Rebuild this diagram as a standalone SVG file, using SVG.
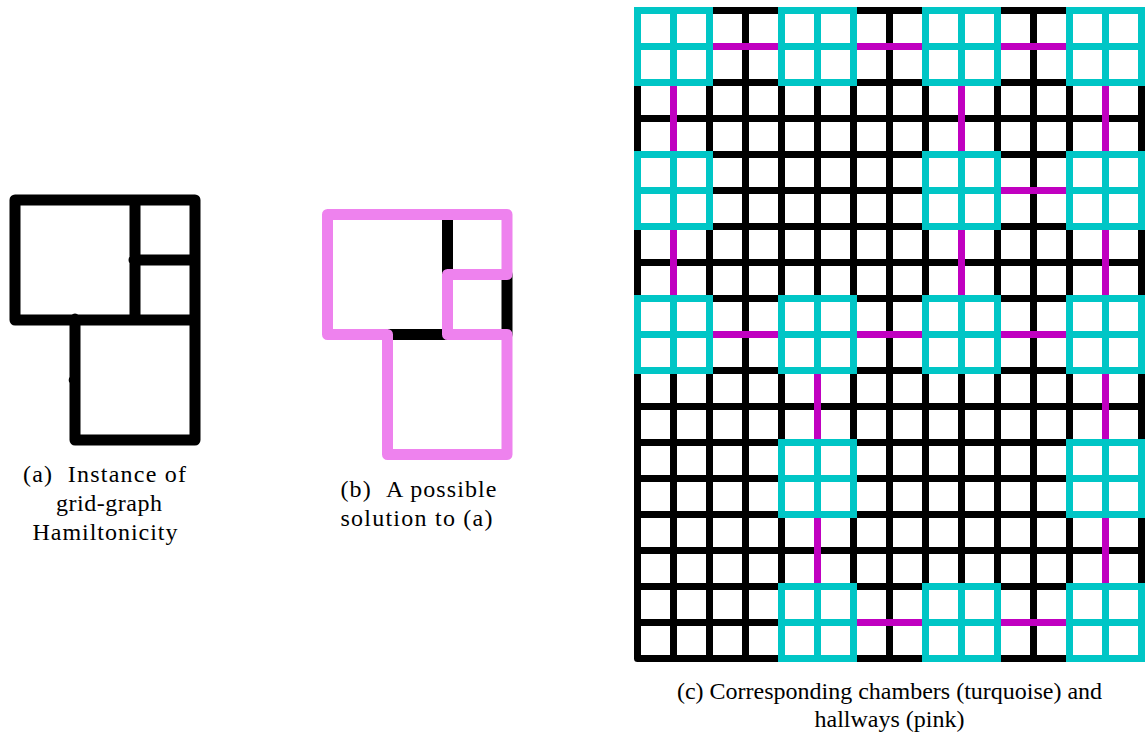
<svg xmlns="http://www.w3.org/2000/svg" xmlns:xlink="http://www.w3.org/1999/xlink" width="1146" height="734" viewBox="0 0 1146 734">
<style>
.bg{fill:#ffffff}
.grid{fill:none;stroke:#000;stroke-width:7;stroke-linecap:round}
.ch{fill:none;stroke:#00C6C6;stroke-width:7}
.hall{fill:none;stroke:#C000C0;stroke-width:7;stroke-linecap:butt}
.gA{fill:none;stroke:#000;stroke-width:11;stroke-linecap:round;stroke-linejoin:round}
.gB{fill:none;stroke:#EE82EE;stroke-width:11;stroke-linecap:round;stroke-linejoin:round}
.cap{font-family:"Liberation Serif","Times New Roman",serif;font-size:24px;fill:#000;text-anchor:middle}
</style>
<defs>
<g id="chamber"><rect x="0" y="0" width="72" height="72"/><path d="M36 0V72M0 36H72"/></g>
</defs>
<rect class="bg" x="0" y="0" width="1146" height="734"/>

<g id="graph-a">
<path class="gA" d="M15 320V200H195V440H75V320M15 320H195M135 200V320M134 260H195M75 319V322M74.2 380V380.2"/>
</g>

<g id="graph-b">
<path class="gA" d="M447.5 214.5V274.5M507 274.5V334.5M387.5 334.5H447.5"/>
<path class="gB" d="M327.5 214.5H507V274.5H447.5V334.5H507V454.5H387.5V334.5H327.5Z"/>
</g>

<g id="grid-c">
<path class="grid" d="M637.5 10.5V658.5M673.5 10.5V658.5M709.5 10.5V658.5M745.5 10.5V658.5M781.5 10.5V658.5M817.5 10.5V658.5M853.5 10.5V658.5M889.5 10.5V658.5M925.5 10.5V658.5M961.5 10.5V658.5M997.5 10.5V658.5M1033.5 10.5V658.5M1069.5 10.5V658.5M1105.5 10.5V658.5M1141.5 10.5V658.5M637.5 10.5H1141.5M637.5 46.5H1141.5M637.5 82.5H1141.5M637.5 118.5H1141.5M637.5 154.5H1141.5M637.5 190.5H1141.5M637.5 226.5H1141.5M637.5 262.5H1141.5M637.5 298.5H1141.5M637.5 334.5H1141.5M637.5 370.5H1141.5M637.5 406.5H1141.5M637.5 442.5H1141.5M637.5 478.5H1141.5M637.5 514.5H1141.5M637.5 550.5H1141.5M637.5 586.5H1141.5M637.5 622.5H1141.5M637.5 658.5H1141.5"/>
</g>

<g id="hallways">
<path class="hall" d="M709.5 46.5H781.5M853.5 46.5H925.5M997.5 46.5H1069.5M997.5 190.5H1069.5M709.5 334.5H781.5M853.5 334.5H925.5M997.5 334.5H1069.5M853.5 622.5H925.5M997.5 622.5H1069.5M673.5 82.5V154.5M961.5 82.5V154.5M1105.5 82.5V154.5M673.5 226.5V298.5M961.5 226.5V298.5M1105.5 226.5V298.5M817.5 370.5V442.5M1105.5 370.5V442.5M817.5 514.5V586.5M1105.5 514.5V586.5"/>
</g>

<g id="chamber-r0c0" class="ch"><use xlink:href="#chamber" x="637.5" y="10.5"/></g>
<g id="chamber-r0c1" class="ch"><use xlink:href="#chamber" x="781.5" y="10.5"/></g>
<g id="chamber-r0c2" class="ch"><use xlink:href="#chamber" x="925.5" y="10.5"/></g>
<g id="chamber-r0c3" class="ch"><use xlink:href="#chamber" x="1069.5" y="10.5"/></g>
<g id="chamber-r1c0" class="ch"><use xlink:href="#chamber" x="637.5" y="154.5"/></g>
<g id="chamber-r1c2" class="ch"><use xlink:href="#chamber" x="925.5" y="154.5"/></g>
<g id="chamber-r1c3" class="ch"><use xlink:href="#chamber" x="1069.5" y="154.5"/></g>
<g id="chamber-r2c0" class="ch"><use xlink:href="#chamber" x="637.5" y="298.5"/></g>
<g id="chamber-r2c1" class="ch"><use xlink:href="#chamber" x="781.5" y="298.5"/></g>
<g id="chamber-r2c2" class="ch"><use xlink:href="#chamber" x="925.5" y="298.5"/></g>
<g id="chamber-r2c3" class="ch"><use xlink:href="#chamber" x="1069.5" y="298.5"/></g>
<g id="chamber-r3c1" class="ch"><use xlink:href="#chamber" x="781.5" y="442.5"/></g>
<g id="chamber-r3c3" class="ch"><use xlink:href="#chamber" x="1069.5" y="442.5"/></g>
<g id="chamber-r4c1" class="ch"><use xlink:href="#chamber" x="781.5" y="586.5"/></g>
<g id="chamber-r4c2" class="ch"><use xlink:href="#chamber" x="925.5" y="586.5"/></g>
<g id="chamber-r4c3" class="ch"><use xlink:href="#chamber" x="1069.5" y="586.5"/></g>

<g id="captions">
<text class="cap" x="104.5" y="482" textLength="163" lengthAdjust="spacing">(a)&#160;&#160;Instance of</text>
<text class="cap" x="109" y="511" textLength="106" lengthAdjust="spacing">grid-graph</text>
<text class="cap" x="105" y="540" textLength="145" lengthAdjust="spacing">Hamiltonicity</text>
<text class="cap" x="418.5" y="497" textLength="156" lengthAdjust="spacing">(b)&#160;&#160;A possible</text>
<text class="cap" x="416.5" y="525.5" textLength="152" lengthAdjust="spacing">solution to (a)</text>
<text class="cap" x="889.5" y="698.5">(c) Corresponding chambers (turquoise) and</text>
<text class="cap" x="889.5" y="727">hallways (pink)</text>
</g>
</svg>
